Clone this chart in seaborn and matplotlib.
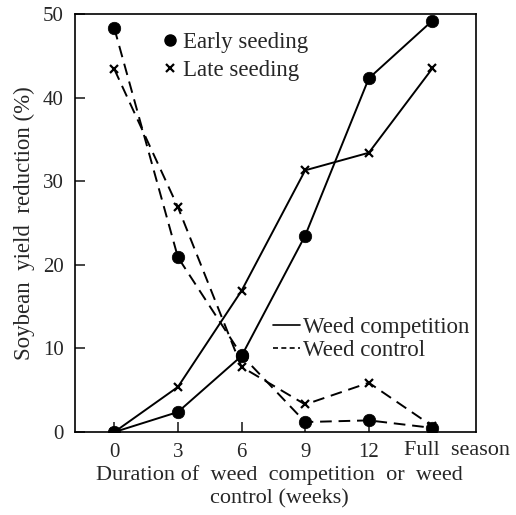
import matplotlib
matplotlib.use("Agg")
import matplotlib.pyplot as plt
from matplotlib.lines import Line2D
import seaborn as sns
import pandas as pd

weeks = ["0", "3", "6", "9", "12", "Full season"]
early_competition = [0.0, 2.4, 9.1, 23.5, 42.3, 49.2]
late_competition = [0.0, 5.4, 16.9, 31.3, 33.4, 43.5]
early_control = [48.3, 20.9, 9.2, 1.2, 1.4, 0.5]
late_control = [43.4, 26.9, 7.8, 3.3, 5.9, 0.7]

sns.set_style("ticks")
plt.rcParams["font.family"] = ["Liberation Serif", "DejaVu Serif"]

rows = []
for seeding, comp, ctrl in [("Early seeding", early_competition, early_control),
                            ("Late seeding", late_competition, late_control)]:
    for i, w in enumerate(weeks):
        rows.append(dict(pos=i, week=w, seeding=seeding, kind="Weed competition", value=comp[i]))
        rows.append(dict(pos=i, week=w, seeding=seeding, kind="Weed control", value=ctrl[i]))
df = pd.DataFrame(rows)

fig = plt.figure(figsize=(5.16, 5.15), dpi=100)
ax = fig.add_axes([0.145, 0.161, 0.777, 0.812])

for (seeding, kind), sub in df.groupby(["seeding", "kind"]):
    marker = "o" if seeding == "Early seeding" else "x"
    ls = "-" if kind == "Weed competition" else (0, (6, 3.5))
    sns.lineplot(data=sub, x="pos", y="value", ax=ax, color="black",
                 linestyle=ls, linewidth=1.4, marker=marker,
                 markersize=9 if marker == "o" else 6,
                 markeredgewidth=1.6 if marker == "x" else 0.5,
                 markeredgecolor="black", legend=False)

ax.set_xlim(-0.62, 5.68)
ax.set_ylim(0, 50)
ax.set_xticks(range(5))
ax.set_xticklabels(weeks[:5])
ax.tick_params(direction="in", length=7, width=1.2, labelsize=15, pad=8)
ax.text(4.55, -0.022, "Full  season", transform=ax.get_xaxis_transform(),
        ha="left", va="top", fontsize=16)
ax.set_yticks([0, 10, 20, 30, 40, 50])
for s in ax.spines.values():
    s.set_linewidth(1.2)
    s.set_color("black")

ax.set_xlabel("Duration of  weed  competition  or  weed\ncontrol (weeks)", fontsize=16,
              labelpad=0, linespacing=1.3)
ax.xaxis.set_label_coords(0.51, -0.08)
ax.xaxis.label.set_va("top")
ax.set_ylabel("Soybean  yield  reduction (%)", fontsize=16.5, labelpad=6)

h1 = [Line2D([], [], color="black", marker="o", linestyle="none", markersize=8),
      Line2D([], [], color="black", marker="x", linestyle="none", markersize=6, markeredgewidth=1.6)]
leg1 = ax.legend(h1, ["Early seeding", "Late seeding"], loc="upper left",
                 bbox_to_anchor=(0.17, 1.005), frameon=False, fontsize=16.5,
                 handlelength=0.6, handletextpad=0.25, labelspacing=0.3)
ax.add_artist(leg1)
h2 = [Line2D([], [], color="black", linestyle="-", linewidth=1.2),
      Line2D([], [], color="black", linestyle=(0, (3, 2)), linewidth=1.2)]
ax.legend(h2, ["Weed competition", "Weed control"], loc="upper right",
          bbox_to_anchor=(1.035, 0.325), frameon=False, fontsize=16.5,
          handlelength=1.2, handletextpad=0.1, labelspacing=0.1)

fig.savefig("out.png", dpi=100)
